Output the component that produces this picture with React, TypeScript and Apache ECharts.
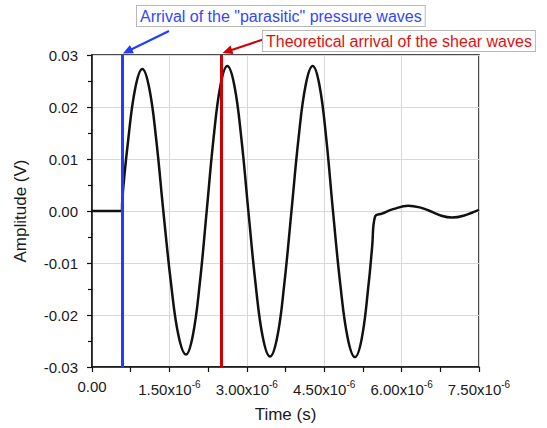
import React, { useEffect, useRef } from "react";
import * as echarts from "echarts";

// Time in microseconds (axis labels show x10^-6 s)
const TIME_US = [
  0, 0.58, 0.585, 0.702, 0.838, 0.975, 1.11, 1.245, 1.382, 1.53, 1.675, 1.822,
  1.955, 2.09, 2.223, 2.356, 2.49, 2.622, 2.758, 2.894, 3.03, 3.17, 3.31, 3.45,
  3.589, 3.727, 3.866, 4.003, 4.14, 4.277, 4.408, 4.539, 4.67, 4.812, 4.955,
  5.097, 5.23, 5.36, 5.43, 5.484, 5.62, 5.85, 6.13, 6.35, 6.55, 6.77, 6.98, 7.2,
  7.5,
];
const AMPLITUDE_V = [
  0, 0, 0.0018, 0.0137, 0.0236, 0.0273, 0.0236, 0.0137, 0.0, -0.0138, -0.0239,
  -0.0276, -0.0239, -0.0138, 0, 0.014, 0.0242, 0.0279, 0.0242, 0.014, 0, -0.014,
  -0.0243, -0.028, -0.0243, -0.014, 0, 0.014, 0.0242, 0.0279, 0.0242, 0.014, 0,
  -0.0141, -0.0244, -0.0281, -0.0244, -0.0141, -0.0068, -0.0011, -0.0005,
  0.0004, 0.00102, 0.0007, 0.0, -0.0009, -0.00125, -0.0009, 0.0002,
];

const P_WAVE_ARRIVAL_US = 0.58;
const S_WAVE_ARRIVAL_US = 2.5;
const P_LABEL = 'Arrival of the "parasitic" pressure waves';
const S_LABEL = "Theoretical arrival of the shear waves";
const X_NAME = "Time (s)";
const Y_NAME = "Amplitude (V)";
const X_MIN = 0;
const X_MAX = 7.5;
const X_STEP = 1.5;
const Y_MIN = -0.03;
const Y_MAX = 0.03;
const Y_STEP = 0.01;
const X_EXPONENT = "-6";

const FONT = "'Liberation Sans', Arial, sans-serif";
const BLUE = "#1f3cff";
const BLUE_TEXT = "#3346ff";
const RED = "#d00000";
const RED_TEXT = "#e01010";

function arrow(from: number[], to: number[], color: string) {
  const dx = to[0] - from[0];
  const dy = to[1] - from[1];
  const len = Math.hypot(dx, dy);
  const ux = dx / len;
  const uy = dy / len;
  const hl = 10;
  const hw = 4.5;
  const base = [to[0] - ux * hl, to[1] - uy * hl];
  const p1 = [base[0] - uy * hw, base[1] + ux * hw];
  const p2 = [base[0] + uy * hw, base[1] - ux * hw];
  return [
    {
      type: "line",
      shape: { x1: from[0], y1: from[1], x2: base[0] + ux * 2, y2: base[1] + uy * 2 },
      style: { stroke: color, lineWidth: 2 },
      z: 20,
    },
    {
      type: "polygon",
      shape: { points: [to, p1, p2] },
      style: { fill: color },
      z: 20,
    },
  ];
}

export default function App() {
  const ref = useRef<HTMLDivElement>(null);
  useEffect(() => {
    if (!ref.current) return;
    const chart = echarts.init(ref.current, undefined, { renderer: "svg" });
    const data = TIME_US.map((t, i) => [t, AMPLITUDE_V[i]]);
    chart.setOption({
      animation: false,
      backgroundColor: "#ffffff",
      grid: {
        left: 92,
        right: 68,
        top: 55,
        bottom: 61,
        show: true,
        borderColor: "#111",
        borderWidth: 1.5,
        backgroundColor: "transparent",
      },
      xAxis: {
        type: "value",
        min: X_MIN,
        max: X_MAX,
        interval: X_STEP,
        name: X_NAME,
        nameLocation: "middle",
        nameGap: 39,
        nameTextStyle: { fontSize: 17, color: "#1a1a1a", fontFamily: FONT },
        axisLine: { show: true, onZero: false, lineStyle: { color: "#111", width: 1.5 } },
        axisTick: { show: true, inside: false, length: 5, lineStyle: { color: "#111", width: 1.2 } },
        minorTick: { show: true, splitNumber: 2, length: 5, lineStyle: { color: "#111", width: 1.2 } },
        splitLine: { show: true, lineStyle: { color: "#d8d8d8", width: 1 } },
        axisLabel: {
          margin: 12,
          color: "#1a1a1a",
          fontSize: 15,
          fontFamily: FONT,
          formatter: (v: number) =>
            v === 0 ? "{m|0.00}" : `{m|${v.toFixed(2)}x10}{s|${X_EXPONENT}}`,
          rich: {
            m: { fontSize: 15, fontFamily: FONT, color: "#1a1a1a" },
            s: { fontSize: 10, fontFamily: FONT, color: "#1a1a1a", padding: [0, 0, 10, 0] },
          },
        },
      },
      yAxis: {
        type: "value",
        min: Y_MIN,
        max: Y_MAX,
        interval: Y_STEP,
        name: Y_NAME,
        nameLocation: "middle",
        nameGap: 63,
        nameTextStyle: { fontSize: 17, color: "#1a1a1a", fontFamily: FONT },
        axisLine: { show: true, onZero: false, lineStyle: { color: "#111", width: 1.5 } },
        axisTick: { show: true, inside: false, length: 5, lineStyle: { color: "#111", width: 1.2 } },
        minorTick: { show: true, splitNumber: 2, length: 4, lineStyle: { color: "#111", width: 1.2 } },
        splitLine: { show: true, lineStyle: { color: "#d8d8d8", width: 1 } },
        axisLabel: {
          margin: 14,
          color: "#1a1a1a",
          fontSize: 15,
          fontFamily: FONT,
          formatter: (v: number) => (Math.abs(v) < 1e-9 ? "0.00" : v.toFixed(2)),
        },
      },
      series: [
        {
          type: "line",
          data,
          smooth: 0.4,
          showSymbol: false,
          lineStyle: { color: "#111", width: 2.5 },
          z: 3,
          markLine: {
            silent: true,
            symbol: "none",
            label: { show: false },
            z: 5,
            data: [
              { xAxis: P_WAVE_ARRIVAL_US, lineStyle: { color: BLUE, width: 3, type: "solid" } },
              { xAxis: S_WAVE_ARRIVAL_US, lineStyle: { color: RED, width: 3, type: "solid" } },
            ],
          },
        },
      ],
    });

    const pTop = chart.convertToPixel({ gridIndex: 0 }, [P_WAVE_ARRIVAL_US, Y_MAX]) as number[];
    const sTop = chart.convertToPixel({ gridIndex: 0 }, [S_WAVE_ARRIVAL_US, Y_MAX]) as number[];

    chart.setOption({
      graphic: [
        ...arrow([169, 31], [pTop[0] + 1, pTop[1] - 1.5], BLUE),
        ...arrow([263, 39.5], [sTop[0] + 1.5, sTop[1] - 2], RED),
        {
          type: "text",
          x: 137,
          y: 6,
          z: 30,
          style: {
            text: P_LABEL,
            fill: BLUE_TEXT,
            fontSize: 16,
            fontFamily: FONT,
            backgroundColor: "#ffffff",
            borderColor: "#b8b8b8",
            borderWidth: 1,
            padding: [2, 3, 2, 3],
          },
        },
        {
          type: "text",
          x: 263,
          y: 31,
          z: 30,
          style: {
            text: S_LABEL,
            fill: RED_TEXT,
            fontSize: 16,
            fontFamily: FONT,
            backgroundColor: "#ffffff",
            borderColor: "#b8b8b8",
            borderWidth: 1,
            padding: [2, 3, 2, 3],
          },
        },
      ],
    });

    return () => chart.dispose();
  }, []);
  return (
    <div
      ref={ref}
      style={{ position: "fixed", left: 0, top: 0, width: 547, height: 428 }}
    />
  );
}
